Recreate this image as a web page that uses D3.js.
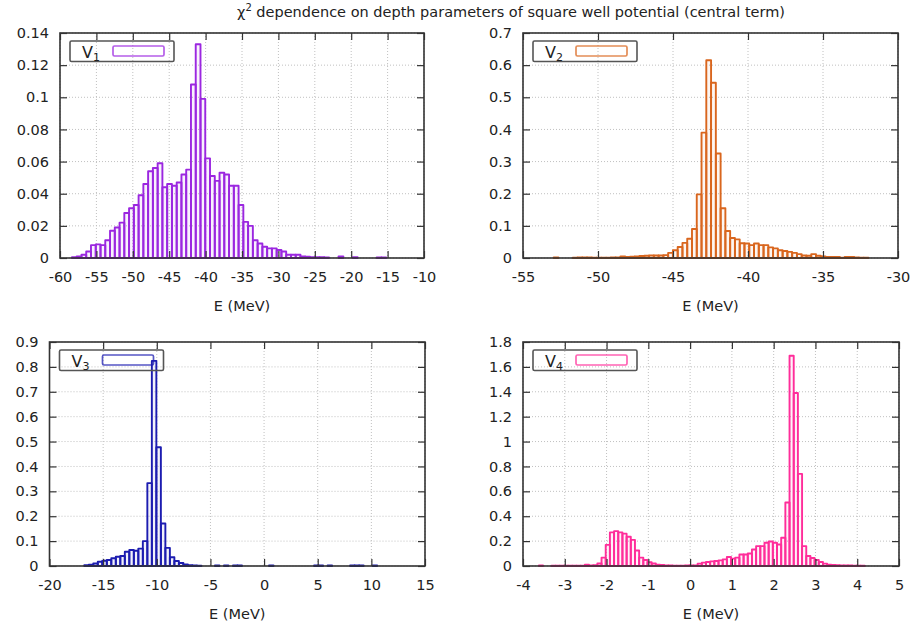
<!DOCTYPE html>
<html>
<head>
<meta charset="utf-8">
<script src="https://cdn.jsdelivr.net/npm/d3@7/dist/d3.min.js"></script>
<style>
body { margin: 0; background: #fff; }
svg text { font-family: "DejaVu Sans", sans-serif; fill: #222; }
</style>
</head>
<body>
<div id="chart"></div>
<script>
// histogram values (probability per bin), null = empty bin
var v1Start = -58.36, v1Width = 0.654;
var v1Values = [0.0005, 0.001, 0.002, 0.004, 0.008, 0.0085, 0.008, 0.011, 0.017, 0.019,
    0.022, 0.028, 0.031, 0.033, 0.039, 0.046, 0.054, 0.056, 0.059, 0.044,
    0.046, 0.045, 0.047, 0.052, 0.055, 0.108, 0.133, 0.099, 0.062, 0.051,
    0.048, 0.053, 0.052, 0.045, 0.045, 0.033, 0.0225, 0.020, 0.011, 0.009,
    0.007, 0.006, 0.006, 0.005, 0.004, 0.002, 0.002, 0.002, 0.001, 0.0008,
    0.0005, 0.0005, 0.0005, 0.0003, null, null, 0.001, null, null, 0.0005,
    null, null, null, null, 0.0003, 0.0003];

var v2Start = -53.274, v2Width = 0.318;
var v2Values = [0, 0.002, 0, 0, 0, 0.001, 0.002, 0.002, 0.002, 0.001,
    0.001, 0.001, 0.001, 0.002, 0.002, 0.005, 0.003, 0.004, 0.005, 0.006,
    0.007, 0.008, 0.008, 0.008, 0.009, 0.016, 0.024, 0.034, 0.047, 0.06,
    0.09, 0.198, 0.39, 0.615, 0.545, 0.325, 0.155, 0.084, 0.062, 0.058,
    0.046, 0.045, 0.04, 0.045, 0.04, 0.04, 0.033, 0.03, 0.024, 0.022,
    0.019, 0.016, 0.012, 0.008, 0.007, 0.012, 0.007, 0.005, 0.003, 0.003,
    0.003, 0.001, 0.003, 0.003, 0.002, 0.001, 0.001];

var v3Start = -16.76, v3Width = 0.42;
var v3Values = [0.003, 0.005, 0.01, 0.017, 0.021, 0.024, 0.031, 0.037, 0.04, 0.057,
    0.064, 0.061, 0.07, 0.1, 0.333, 0.824, 0.477, 0.171, 0.073, 0.035,
    0.02, 0.012, 0.006, 0.003, 0.002, 0.001, null, null, null, 0.002,
    null, 0.002, null, 0.002, 0.002, null, null, null, null, null,
    null, 0.002, null, null, null, null, null, null, null, null,
    null, 0.002, 0.002, null, 0.002, null, null, null, null, 0.002,
    0.002, 0.002, null, null, 0.002];

var v4Start = -3.72, v4Width = 0.1;
var v4Values = [null, 0.005, null, null, 0.002, 0.002, 0.003, 0.003, 0.003, 0.003,
    0.003, 0.003, 0.01, 0.004, 0.006, 0.02, 0.067, 0.17, 0.27, 0.28,
    0.27, 0.26, 0.235, 0.21, 0.125, 0.067, 0.048, 0.03, 0.02, 0.01,
    0.008, 0.005, 0.004, 0.003, 0.003, 0.003, 0.004, 0.004, 0.005, 0.019,
    0.027, 0.032, 0.037, 0.04, 0.045, 0.053, 0.072, 0.059, 0.067, 0.093,
    0.093, 0.1, 0.133, 0.16, 0.16, 0.187, 0.197, 0.187, 0.173, 0.227,
    0.51, 1.69, 1.39, 0.74, 0.16, 0.08, 0.064, 0.048, 0.032, 0.019,
    0.01, 0.008, 0.006, 0.005, 0.004, 0.004, 0.003, 0.002, 0.002];

// tick labels
var v1XTicks = [-60, -55, -50, -45, -40, -35, -30, -25, -20, -15, -10];
var v1YTicks = [0, 0.02, 0.04, 0.06, 0.08, 0.1, 0.12, 0.14];
var v2XTicks = [-55, -50, -45, -40, -35, -30];
var v2YTicks = [0, 0.1, 0.2, 0.3, 0.4, 0.5, 0.6, 0.7];
var v3XTicks = [-20, -15, -10, -5, 0, 5, 10, 15];
var v3YTicks = [0, 0.1, 0.2, 0.3, 0.4, 0.5, 0.6, 0.7, 0.8, 0.9];
var v4XTicks = [-4, -3, -2, -1, 0, 1, 2, 3, 4, 5];
var v4YTicks = [0, 0.2, 0.4, 0.6, 0.8, 1, 1.2, 1.4, 1.6, 1.8];

var svg = d3.select("#chart").append("svg")
    .attr("width", 914)
    .attr("height", 629);

var panels = [
    {sub: "1", values: v1Values, start: v1Start, width: v1Width, color: "#9b27e0",
     xticks: v1XTicks, yticks: v1YTicks, left: 60, right: 424, top: 33, bottom: 258},
    {sub: "2", values: v2Values, start: v2Start, width: v2Width, color: "#d9661e",
     xticks: v2XTicks, yticks: v2YTicks, left: 523, right: 898, top: 33, bottom: 258},
    {sub: "3", values: v3Values, start: v3Start, width: v3Width, color: "#1c1cb0",
     xticks: v3XTicks, yticks: v3YTicks, left: 49.5, right: 425, top: 342, bottom: 566},
    {sub: "4", values: v4Values, start: v4Start, width: v4Width, color: "#ff2d9a",
     xticks: v4XTicks, yticks: v4YTicks, left: 523, right: 899, top: 342, bottom: 566}
];

function fmt(v) { return String(+v.toFixed(3)); }

var title = svg.append("text")
    .attr("x", 511)
    .attr("y", 17)
    .attr("text-anchor", "middle")
    .style("font-size", "14.5px");
title.append("tspan").text("\u03c7");
title.append("tspan").attr("dy", -6).style("font-size", "10px").text("2");
title.append("tspan").attr("dy", 6).text(" dependence on depth parameters of square well potential (central term)");

panels.forEach(function(p) {
    var xt = p.xticks, yt = p.yticks;
    var x = d3.scaleLinear()
        .domain([xt[0], xt[xt.length - 1]])
        .range([p.left, p.right]);
    var y = d3.scaleLinear()
        .domain([yt[0], yt[yt.length - 1]])
        .range([p.bottom, p.top]);

    var g = svg.append("g");

    // dotted grid
    g.selectAll(".gx")
        .data(xt)
        .enter().append("line")
        .attr("x1", function(d) { return x(d); })
        .attr("x2", function(d) { return x(d); })
        .attr("y1", p.top).attr("y2", p.bottom)
        .attr("stroke", "#c0c0c0")
        .attr("stroke-dasharray", "1,2");
    g.selectAll(".gy")
        .data(yt)
        .enter().append("line")
        .attr("y1", function(d) { return y(d); })
        .attr("y2", function(d) { return y(d); })
        .attr("x1", p.left).attr("x2", p.right)
        .attr("stroke", "#c0c0c0")
        .attr("stroke-dasharray", "1,2");

    var bins = p.values.map(function(v, i) {
        return {x0: p.start + i * p.width, x1: p.start + (i + 1) * p.width, v: v};
    }).filter(function(d) { return d.v !== null; });

    g.selectAll(".bar")
        .data(bins)
        .enter().append("rect")
        .attr("x", function(d) { return x(d.x0); })
        .attr("width", function(d) { return x(d.x1) - x(d.x0); })
        .attr("y", function(d) { return y(d.v); })
        .attr("height", function(d) { return y(0) - y(d.v); })
        .attr("fill", p.color)
        .attr("fill-opacity", 0.06)
        .attr("stroke", p.color)
        .attr("stroke-width", 1.9)
        .attr("stroke-linejoin", "round");

    // axes, ticks pointing inwards on all four sides
    var ax = g.append("g")
        .attr("transform", "translate(0," + p.bottom + ")")
        .call(d3.axisBottom(x).tickValues(xt).tickSize(-7).tickPadding(14).tickFormat(fmt));
    var ay = g.append("g")
        .attr("transform", "translate(" + p.left + ",0)")
        .call(d3.axisLeft(y).tickValues(yt).tickSize(-7).tickPadding(11).tickFormat(fmt));
    var at = g.append("g")
        .attr("transform", "translate(0," + p.top + ")")
        .call(d3.axisTop(x).tickValues(xt).tickSize(-7).tickFormat(""));
    var ar = g.append("g")
        .attr("transform", "translate(" + p.right + ",0)")
        .call(d3.axisRight(y).tickValues(yt).tickSize(-7).tickFormat(""));
    [ax, ay, at, ar].forEach(function(a) {
        a.select(".domain").remove();
        a.selectAll("line").attr("stroke", "#333").attr("stroke-width", 1.2);
        a.selectAll("text")
            .attr("fill", "#222")
            .style("font-family", "DejaVu Sans, sans-serif")
            .style("font-size", "14.5px");
    });

    g.append("rect")
        .attr("x", p.left).attr("y", p.top)
        .attr("width", p.right - p.left)
        .attr("height", p.bottom - p.top)
        .attr("fill", "none")
        .attr("stroke", "#333")
        .attr("stroke-width", 1.6);

    g.append("text")
        .attr("x", (p.left + p.right) / 2)
        .attr("y", p.bottom + 53)
        .attr("text-anchor", "middle")
        .style("font-size", "14.5px")
        .text("E (MeV)");

    // key
    var kx = p.left + 10, ky = p.top + 8;
    g.append("rect")
        .attr("x", kx).attr("y", ky)
        .attr("width", 104).attr("height", 20.5)
        .attr("rx", 1.5)
        .attr("fill", "none")
        .attr("stroke", "#555")
        .attr("stroke-width", 1.6);
    var kt = g.append("text")
        .attr("x", kx + 12)
        .attr("y", ky + 16.5)
        .style("font-size", "16px");
    kt.append("tspan").text("V");
    kt.append("tspan").attr("dy", 3.5).style("font-size", "11px").text(p.sub);
    g.append("rect")
        .attr("x", kx + 43).attr("y", ky + 5)
        .attr("width", 51).attr("height", 10)
        .attr("rx", 1.5)
        .attr("fill", "none")
        .attr("stroke", p.color)
        .attr("stroke-opacity", 0.75)
        .attr("stroke-width", 1.7);
});
</script>
</body>
</html>
